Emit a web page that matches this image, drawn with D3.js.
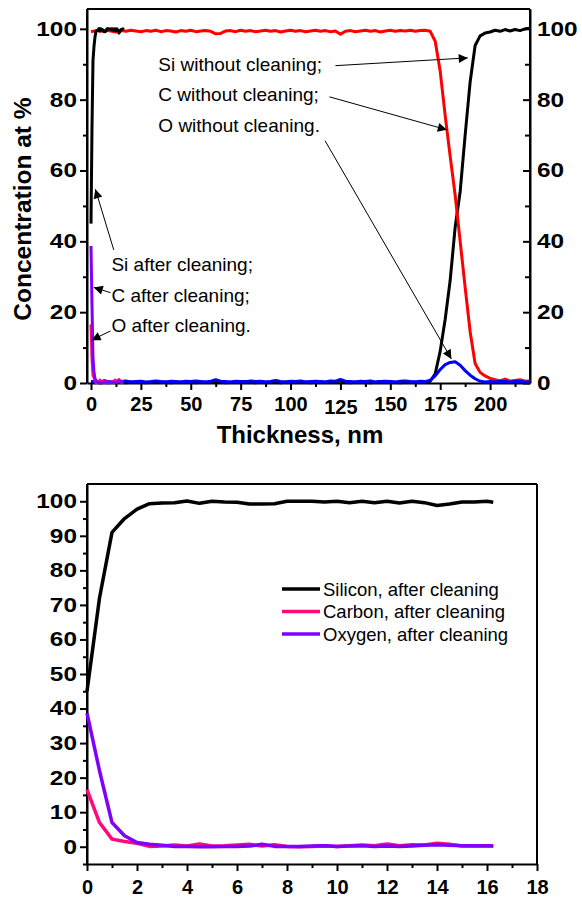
<!DOCTYPE html>
<html><head><meta charset="utf-8">
<script src="https://cdn.jsdelivr.net/npm/d3@7"></script>
<style>
body{margin:0;background:#fff}
svg{display:block}
text{font-family:Arial,"Liberation Sans",sans-serif;fill:#000}
</style>
</head><body>
<svg id="c" width="582" height="898"></svg>
<script>
// ---------- DATA ----------
// Top chart: depth profiles without cleaning (thickness in nm, concentration in at.%)
const thicknessNm = [0,2.5,5,7.5,10,12.5,15,17.5,20,22.5,25,27.5,30,32.5,35,37.5,40,42.5,45,47.5,50,52.5,55,57.5,60,62.5,65,67.5,70,72.5,75,77.5,80,82.5,85,87.5,90,92.5,95,97.5,100,102.5,105,107.5,110,112.5,115,117.5,120,122.5,125,127.5,130,132.5,135,137.5,140,142.5,145,147.5,150,152.5,155,157.5,160,162.5,165,167.5,170,172.5,175,177.5,180,182.5,185,187.5,190,192.5,195,197.5,200,202.5,205,207.5,210,212.5,215,217.5,220];
const carbonWithout = [99.2,99.5,99.3,99.6,99.4,99.1,99.5,99.3,99.6,99.4,99.2,99.5,99.3,99.6,99.2,99.5,99.4,99.1,99.5,99.3,99.6,99.2,99.4,99.5,99.3,98.6,98.7,99.4,99.5,99.2,99.6,99.3,99.5,99.2,99.4,99.6,99.3,99.5,99.1,99.4,99.6,99.3,99.5,99.2,99.4,99.6,99.3,99.5,99.2,99.4,98.5,99.3,99.5,99.2,99.4,99.6,99.3,99.5,99.1,99.4,99.6,99.3,99.5,99.4,99.6,99.3,99.5,99.6,99.3,96.5,88,75.5,64,53,40,27,14.5,5.5,3,2,1.3,0.9,0.6,1.1,0.5,0.7,0.9,0.5,0.6];
const siliconWithout = [0.2,0.3,0.1,0.3,0.2,0.4,0.2,0.1,0.3,0.2,0.3,0.1,0.2,0.4,0.2,0.3,0.1,0.2,0.3,0.2,0.4,0.1,0.3,0.2,0.2,0.5,0.3,0.1,0.2,0.3,0.2,0.4,0.2,0.1,0.3,0.2,0.3,0.2,0.1,0.3,0.2,0.4,0.2,0.3,0.1,0.2,0.3,0.2,0.4,0.3,0.6,0.2,0.1,0.3,0.2,0.3,0.1,0.2,0.4,0.2,0.3,0.2,0.1,0.3,0.2,0.3,0.2,0.3,0.5,2.6,9,18,29,44,54,70,85,95.3,98,98.8,99.1,99.6,99.3,99.8,99.4,99.8,99.5,100,100.2];
const oxygenWithout = [0.4,0.3,0.5,0.4,0.3,0.5,0.4,0.6,0.3,0.4,0.5,0.3,0.4,0.6,0.4,0.3,0.5,0.4,0.3,0.5,0.4,0.6,0.4,0.3,0.5,0.9,0.5,0.4,0.3,0.5,0.4,0.3,0.6,0.4,0.5,0.3,0.4,0.7,0.4,0.3,0.5,0.4,0.6,0.3,0.4,0.5,0.4,0.3,0.6,0.5,1.0,0.5,0.4,0.3,0.5,0.4,0.6,0.3,0.4,0.5,0.4,0.3,0.5,0.6,0.4,0.3,0.5,0.4,0.8,2,3.8,5.2,5.8,6,5,3.5,2.2,1.2,0.5,0.3,0.4,0.3,0.5,0.4,0.3,0.5,0.4,0.3,0.3];

// After cleaning (thickness in nm) - shown in both charts
const thicknessAfter = [0,0.5,1,1.5,2,2.5,3,3.5,4,4.5,5,5.5,6,6.5,7,7.5,8,8.5,9,9.5,10,10.5,11,11.5,12,12.5,13,13.5,14,14.5,15,15.5,16,16.25];
const siliconAfter = [45,72,91,95,97.7,99.3,99.5,99.6,100.1,99.4,100,99.8,99.7,99.2,99.2,99.3,100,100,100,99.8,100,99.6,100,99.6,100,99.5,100,99.6,98.8,99.2,99.8,99.8,100,99.7];
const carbonAfter = [16.5,7,2.2,1.5,1,0.1,0.2,0.5,0.2,0.8,0.2,0.3,0.5,0.7,0.2,0.6,0.1,0,0.1,0.3,0.1,0.3,0.5,0.3,0.8,0.3,0.6,0.5,1.0,0.7,0.2,0.2,0.3,0.3];
const oxygenAfter = [38.7,22,7,3.2,1.2,0.7,0.4,0.1,0.1,0,0,0.1,0.1,0.2,0.7,0.1,0.1,0.1,0.2,0.3,0.1,0.2,0.3,0.1,0.2,0.1,0.2,0.4,0.6,0.4,0.3,0.3,0.2,0.2];

// Ticks
const topXTicks = [0,25,50,75,100,125,150,175,200];
const topXMinor = [12.5,37.5,62.5,87.5,112.5,137.5,162.5,187.5,212.5];
const topYTicks = [0,20,40,60,80,100];
const topYMinor = [10,30,50,70,90];
const botXTicks = [0,2,4,6,8,10,12,14,16,18];
const botXMinor = [1,3,5,7,9,11,13,15,17];
const botYTicks = [0,10,20,30,40,50,60,70,80,90,100];
const botYMinor = [-5,5,15,25,35,45,55,65,75,85,95];

// Annotations (data coordinates of the top chart)
const labelsWithout = [
  {text:"Si without cleaning;", x:33.75, y:88.1, from:[122.5,89.6], to:[188.8,91.8]},
  {text:"C without cleaning;",  x:33.75, y:79.5, from:[119.5,80.8], to:[178.3,71.5]},
  {text:"O without cleaning.",  x:33.75, y:71.0, from:[117.3,68.4], to:[180.6,6.8]}
];
const labelsAfter = [
  {text:"Si after cleaning;", x:10.25, y:31.6, from:[11.4,37.6], to:[2.2,54.7]},
  {text:"C after cleaning;",  x:10.25, y:23.0, from:[9.8,25.5], to:[1.4,27.0]},
  {text:"O after cleaning.",  x:10.25, y:14.5, from:[9.8,14.7], to:[0.3,12.1]}
];
const legendItems = ["Silicon, after cleaning","Carbon, after cleaning","Oxygen, after cleaning"];

// ---------- DRAW ----------
const svg = d3.select("#c");
const colors = {si:"#000000", cWithout:"#ff0000", oWithout:"#0000ff", cAfter:"#ff0a7e", oAfter:"#8000ff"};
const zip = (xs, ys) => xs.map((x,i)=>[x, ys[i]]);
const YSTRETCH = 1.22;

svg.append("defs").append("marker")
  .attr("id","arr").attr("viewBox","0 0 10 10").attr("refX",10).attr("refY",5)
  .attr("markerWidth",12).attr("markerHeight",9).attr("markerUnits","userSpaceOnUse")
  .attr("orient","auto")
  .append("path").attr("d","M0,0L10,5L0,10Z").attr("fill","#000");

function styleAxis(g, fs){
  g.selectAll("path.domain").attr("stroke","#000").attr("stroke-width",2);
  g.selectAll(".tick line").attr("stroke","#000").attr("stroke-width",2);
  g.selectAll(".tick text").attr("font-size",fs).attr("font-weight","bold")
    .attr("font-family","Arial,'Liberation Sans',sans-serif").attr("fill","#000");
}
function stretchY(g){
  g.selectAll(".tick text").each(function(){
    const t = d3.select(this);
    const x = +t.attr("x");
    t.attr("x", x / YSTRETCH).attr("transform", `scale(${YSTRETCH},1)`);
  });
}
function minor(g){ g.select(".domain").remove(); g.selectAll("line").attr("stroke","#000").attr("stroke-width",2); }

// ===== TOP CHART =====
const L1=87, R1=530, T1=9, B1=383;
const x1 = d3.scaleLinear().domain([-2,220]).range([L1,R1]);
const y1 = d3.scaleLinear().domain([0,105.6]).range([B1,T1]);
const g1 = svg.append("g");

g1.append("line").attr("x1",L1).attr("x2",R1).attr("y1",T1).attr("y2",T1).attr("stroke","#000").attr("stroke-width",2);

const ax1 = g1.append("g").attr("transform",`translate(0,${B1})`)
  .call(d3.axisBottom(x1).tickValues(topXTicks).tickSizeInner(7).tickSizeOuter(0).tickPadding(7));
styleAxis(ax1, 20);
ax1.selectAll(".tick text").filter(d=>d===125).attr("dy","0.86em");
g1.append("g").attr("transform",`translate(0,${B1})`)
  .call(d3.axisBottom(x1).tickValues(topXMinor).tickSize(4).tickFormat("")).call(minor);

const ay1 = g1.append("g").attr("transform",`translate(${L1},0)`)
  .call(d3.axisLeft(y1).tickValues(topYTicks).tickSizeInner(7).tickSizeOuter(0).tickPadding(3));
styleAxis(ay1, 20); stretchY(ay1);
g1.append("g").attr("transform",`translate(${L1},0)`)
  .call(d3.axisLeft(y1).tickValues(topYMinor).tickSize(4).tickFormat("")).call(minor);

const ayr1 = g1.append("g").attr("transform",`translate(${R1},0)`)
  .call(d3.axisRight(y1).tickValues(topYTicks).tickSizeInner(-7).tickSizeOuter(0).tickPadding(7));
styleAxis(ayr1, 20); stretchY(ayr1);
g1.append("g").attr("transform",`translate(${R1},0)`)
  .call(d3.axisRight(y1).tickValues(topYMinor).tickSize(-5).tickFormat("")).call(minor);
g1.append("line").attr("x1",L1).attr("x2",L1).attr("y1",T1).attr("y2",B1).attr("stroke","#000").attr("stroke-width",2);
g1.append("line").attr("x1",R1).attr("x2",R1).attr("y1",T1).attr("y2",B1).attr("stroke","#000").attr("stroke-width",2);

const line1 = d3.line().x(d=>x1(d[0])).y(d=>y1(d[1]));
const topSeries = [
  {d:zip(thicknessNm, siliconWithout), c:colors.si, w:3},
  {d:zip(thicknessNm, carbonWithout), c:colors.cWithout, w:3},
  {d:zip(thicknessNm, oxygenWithout), c:colors.oWithout, w:3},
  {d:zip(thicknessAfter, siliconAfter), c:colors.si, w:3},
  {d:zip(thicknessAfter, carbonAfter), c:colors.cAfter, w:3},
  {d:zip(thicknessAfter, oxygenAfter), c:colors.oAfter, w:3}
];
g1.selectAll("path.series").data(topSeries).join("path").attr("class","series")
  .attr("d",s=>line1(s.d)).attr("fill","none").attr("stroke",s=>s.c).attr("stroke-width",s=>s.w)
  .attr("stroke-linejoin","round");

// annotations
const ann = labelsWithout.concat(labelsAfter);
g1.selectAll("text.ann").data(ann).join("text").attr("class","ann")
  .attr("x",d=>x1(d.x)).attr("y",d=>y1(d.y)).attr("font-size",19).text(d=>d.text);
g1.selectAll("line.arrow").data(ann).join("line").attr("class","arrow")
  .attr("x1",d=>x1(d.from[0])).attr("y1",d=>y1(d.from[1]))
  .attr("x2",d=>x1(d.to[0])).attr("y2",d=>y1(d.to[1]))
  .attr("stroke","#000").attr("stroke-width",1).attr("marker-end","url(#arr)");

// axis titles
g1.append("text").attr("x",300).attr("y",443).attr("text-anchor","middle")
  .attr("font-size",24).attr("font-weight","bold").text("Thickness, nm");
g1.append("text").attr("transform","translate(31,209) rotate(-90)").attr("text-anchor","middle")
  .attr("font-size",24.5).attr("font-weight","bold").text("Concentration at %");

// ===== BOTTOM CHART =====
const L2=87, R2=537, T2=484, B2=864;
const x2 = d3.scaleLinear().domain([0,18]).range([L2,R2]);
const y2 = d3.scaleLinear().domain([-5,105]).range([B2,T2]);
const g2 = svg.append("g");
g2.append("line").attr("x1",L2).attr("x2",R2).attr("y1",T2).attr("y2",T2).attr("stroke","#000").attr("stroke-width",2);
g2.append("line").attr("x1",R2).attr("x2",R2).attr("y1",T2).attr("y2",B2).attr("stroke","#000").attr("stroke-width",2);

const ax2 = g2.append("g").attr("transform",`translate(0,${B2})`)
  .call(d3.axisBottom(x2).tickValues(botXTicks).tickSizeInner(7).tickSizeOuter(0).tickPadding(9));
styleAxis(ax2, 20);
g2.append("g").attr("transform",`translate(0,${B2})`)
  .call(d3.axisBottom(x2).tickValues(botXMinor).tickSize(4).tickFormat("")).call(minor);
const ay2 = g2.append("g").attr("transform",`translate(${L2},0)`)
  .call(d3.axisLeft(y2).tickValues(botYTicks).tickSizeInner(7).tickSizeOuter(0).tickPadding(3));
styleAxis(ay2, 20); stretchY(ay2);
g2.append("g").attr("transform",`translate(${L2},0)`)
  .call(d3.axisLeft(y2).tickValues(botYMinor).tickSize(4).tickFormat("")).call(minor);
g2.append("line").attr("x1",L2).attr("x2",L2).attr("y1",T2).attr("y2",B2).attr("stroke","#000").attr("stroke-width",2);

const line2 = d3.line().x(d=>x2(d[0])).y(d=>y2(d[1]));
const botSeries = [
  {d:zip(thicknessAfter, siliconAfter), c:colors.si},
  {d:zip(thicknessAfter, carbonAfter), c:colors.cAfter},
  {d:zip(thicknessAfter, oxygenAfter), c:colors.oAfter}
];
g2.selectAll("path.series").data(botSeries).join("path").attr("class","series")
  .attr("d",s=>line2(s.d)).attr("fill","none").attr("stroke",s=>s.c).attr("stroke-width",3.5)
  .attr("stroke-linejoin","round");

// legend
const lg = g2.append("g").attr("transform","translate(282,589)");
const legColors = [colors.si, colors.cAfter, colors.oAfter];
legendItems.forEach((t,i)=>{
  lg.append("line").attr("x1",0).attr("x2",38).attr("y1",i*22.5).attr("y2",i*22.5)
    .attr("stroke",legColors[i]).attr("stroke-width",3.5);
  lg.append("text").attr("x",41).attr("y",i*22.5+6.5).attr("font-size",18.5).text(t);
});
</script>
</body></html>
